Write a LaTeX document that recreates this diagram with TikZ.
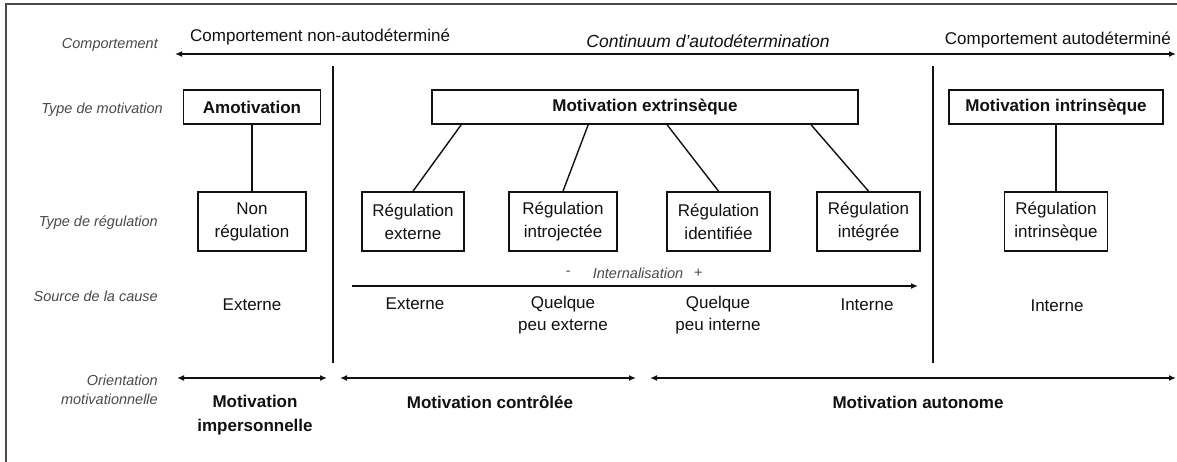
\documentclass[tikz,border=0pt]{standalone}
\usepackage{fontspec}
\setmainfont{Liberation Sans}
\usetikzlibrary{arrows.meta}
\definecolor{ink}{HTML}{111111}
\definecolor{lab}{HTML}{4A4A4A}
\begin{document}
\begin{tikzpicture}[x=1pt,y=-1pt,
  lbl/.style={font=\fontsize{14.5}{19}\selectfont\itshape, text=lab, anchor=east, align=right, inner sep=0pt},
  txt/.style={font=\fontsize{17}{22}\selectfont, text=ink, align=center, inner sep=0pt},
  btxt/.style={font=\fontsize{17}{24}\selectfont\bfseries, text=ink, align=center, inner sep=0pt},
  regbox/.style={draw=ink, line width=1.7pt, font=\fontsize{17}{23}\selectfont, text=ink, align=center, inner sep=0pt, minimum height=59pt},
  motbox/.style={draw=ink, line width=1.7pt, font=\fontsize{17}{20}\selectfont\bfseries, text=ink, align=center, inner sep=0pt, minimum height=34pt},
  conn/.style={draw=ink, line width=1.4pt},
  dbl/.style={draw=ink, line width=1.5pt, {Latex[length=7pt,width=6pt]}-{Latex[length=7pt,width=6pt]}},
  sgl/.style={draw=ink, line width=1.5pt, -{Latex[length=7pt,width=6pt]}},
  sep/.style={draw=ink, line width=1.4pt}]
\useasboundingbox (0,0) rectangle (1177,461);
\fill[white] (0,0) rectangle (1177,461);
% frame
\draw[line width=1.2pt, draw=lab] (1180,4) -- (6,4) -- (6,465);

% left labels
\node[lbl] (lcomp) at (158,45) {Comportement};
\node[lbl] (lmot) at (163,110) {Type de motivation};
\node[lbl] (lreg) at (158,223) {Type de régulation};
\node[lbl] (lsrc) at (158,296) {Source de la cause};
\node[lbl] (lori) at (158,390) {Orientation\\motivationnelle};

% top continuum
\coordinate (tl) at (175,54);
\coordinate (tr) at (1176,54);
\draw[dbl] (tl) -- (tr);
\node[txt, anchor=west] (cna) at (190,37) {Comportement non-autodéterminé};
\node[txt, font=\fontsize{17.5}{20}\selectfont\itshape] (cont) at (708,41) {Continuum d’autodétermination};
\node[txt, anchor=east] (cad) at (1171,40) {Comportement autodéterminé};

% separators
\coordinate (s1t) at (333,66); \coordinate (s1b) at (333,363);
\coordinate (s2t) at (933,66); \coordinate (s2b) at (933,363);
\draw[sep] (s1t) -- (s1b);
\draw[sep] (s2t) -- (s2b);

% motivation boxes
\node[motbox, minimum width=137pt] (amot) at (252,107) {Amotivation};
\node[motbox, minimum width=426pt] (extr) at (645,107) {Motivation extrinsèque};
\node[motbox, minimum width=214pt] (intr) at (1056,107) {Motivation intrinsèque};

% regulation boxes
\node[regbox, minimum width=108pt] (nonreg) at (252,221.5) {Non\\régulation};
\node[regbox, minimum width=102pt] (rext) at (413,221.5) {Régulation\\externe};
\node[regbox, minimum width=108pt] (rintro) at (563,221.5) {Régulation\\introjectée};
\node[regbox, minimum width=103pt] (rident) at (718.5,221.5) {Régulation\\identifiée};
\node[regbox, minimum width=103pt] (rinteg) at (868.5,221.5) {Régulation\\intégrée};
\node[regbox, minimum width=103pt] (rintr) at (1056,221.5) {Régulation\\intrinsèque};

% connectors
\draw[conn] (amot.south) -- (nonreg.north);
\draw[conn] ([xshift=30pt]extr.south west) -- (rext.north);
\draw[conn] ([xshift=157pt]extr.south west) -- (rintro.north);
\draw[conn] ([xshift=236pt]extr.south west) -- (rident.north);
\draw[conn] ([xshift=380pt]extr.south west) -- (rinteg.north);
\draw[conn] (intr.south) -- (rintr.north);

% internalisation
\coordinate (il) at (352,286);
\coordinate (ir) at (918,286);
\draw[sgl] (il) -- (ir);
\node[lbl, anchor=center] (iminus) at (568,273) {-};
\node[lbl, anchor=center] (inter) at (638,273) {Internalisation};
\node[lbl, anchor=center] (iplus) at (698,273) {+};

% source
\node[txt] (src0) at (252,305) {Externe};
\node[txt] (src1) at (415,304) {Externe};
\node[txt] (src2) at (563,315) {Quelque\\peu externe};
\node[txt] (src3) at (718,315) {Quelque\\peu interne};
\node[txt] (src4) at (867,305) {Interne};
\node[txt] (src5) at (1057,306) {Interne};

% orientation arrows
\coordinate (o1l) at (177,378); \coordinate (o1r) at (327,378);
\coordinate (o2l) at (340,378); \coordinate (o2r) at (636,378);
\coordinate (o3l) at (650,378); \coordinate (o3r) at (1176,378);
\draw[dbl] (o1l) -- (o1r);
\draw[dbl] (o2l) -- (o2r);
\draw[dbl] (o3l) -- (o3r);
\node[btxt] (mimp) at (255,415) {Motivation\\impersonnelle};
\node[btxt] (mctl) at (490,402) {Motivation contrôlée};
\node[btxt] (maut) at (918,402) {Motivation autonome};
\end{tikzpicture}
\end{document}
